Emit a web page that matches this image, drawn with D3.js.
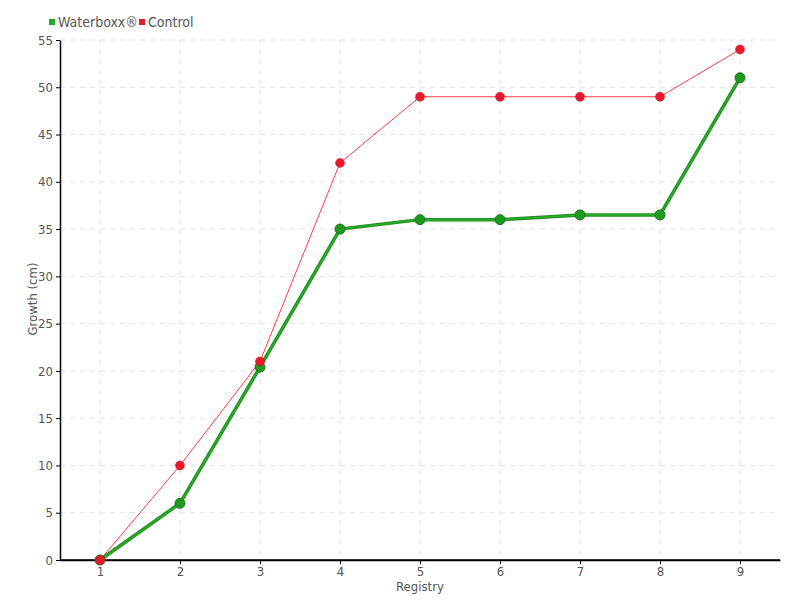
<!DOCTYPE html>
<html><head><meta charset="utf-8">
<script src="https://cdn.jsdelivr.net/npm/d3@7"></script>
<style>
body{margin:0;background:#fff;}
text{font-family:"DejaVu Sans Condensed","DejaVu Sans",sans-serif;font-stretch:condensed;fill:#555;}
</style></head>
<body><svg id="c" width="800" height="600"></svg>
<script>
const categories = [1,2,3,4,5,6,7,8,9];
const waterboxx = [0,6,20.4,35,36,36,36.5,36.5,51];
const control = [0,10,21,42,49,49,49,49,54];
const yTicks = [0,5,10,15,20,25,30,35,40,45,50,55];
const seriesNames = ["Waterboxx®","Control"];

const FONT='"DejaVu Sans Condensed","DejaVu Sans",sans-serif';
const svg = d3.select("#c");
const L=60,R=780,T=40,B=560;
const x = d3.scalePoint().domain(categories).range([L,R]).padding(0.5);
const y = d3.scaleLinear().domain([0,55]).range([B,T]);

// grid
svg.append("g").selectAll("line").data(yTicks.filter(d=>d>0)).join("line")
  .attr("x1",L).attr("x2",R).attr("y1",d=>y(d)).attr("y2",d=>y(d))
  .attr("stroke","#e2e2e2").attr("stroke-dasharray","5,5");
svg.append("g").selectAll("line").data(categories).join("line")
  .attr("x1",d=>x(d)).attr("x2",d=>x(d)).attr("y1",T).attr("y2",B)
  .attr("stroke","#e2e2e2").attr("stroke-dasharray","5,5");

// axes
const ax = svg.append("g").attr("transform",`translate(0,${B})`)
  .call(d3.axisBottom(x).tickSize(4).tickPadding(3).tickSizeOuter(0));
const ay = svg.append("g").attr("transform",`translate(${L},0)`)
  .call(d3.axisLeft(y).tickValues(yTicks).tickSize(4).tickPadding(3).tickSizeOuter(0));
[ax,ay].forEach(g=>{
  g.select(".domain").attr("stroke","#000").attr("stroke-width",1.5);
  g.selectAll(".tick line").attr("stroke","#000");
  g.selectAll("text").attr("font-size",13).attr("fill","#555")
   .style("font-family",FONT).style("font-stretch","condensed");
});
svg.append("line").attr("x1",L).attr("x2",R).attr("y1",B).attr("y2",B).attr("stroke","#000").attr("stroke-width",1.5);

svg.append("text").attr("x",420).attr("y",591).attr("text-anchor","middle").attr("font-size",13).text("Registry");
svg.append("text").attr("transform","translate(37,299) rotate(-90)").attr("text-anchor","middle").attr("font-size",13).text("Growth (cm)");

const line = d3.line().x((d,i)=>x(categories[i])).y(d=>y(d));

// control
svg.append("path").datum(control).attr("d",line).attr("fill","none").attr("stroke","#ff3b4e").attr("stroke-width",1);
// waterboxx
svg.append("path").datum(waterboxx).attr("d",line).attr("fill","none").attr("stroke","#1e8f1e").attr("stroke-width",3.5);
svg.append("path").datum(waterboxx).attr("d",line).attr("fill","none").attr("stroke","#2aad2a").attr("stroke-width",1.5);

svg.append("g").selectAll("circle").data(waterboxx).join("circle")
  .attr("cx",(d,i)=>x(categories[i])).attr("cy",d=>y(d)).attr("r",5)
  .attr("fill","#1f9a1f").attr("stroke","#187a18").attr("stroke-width",1);
svg.append("g").selectAll("circle").data(control).join("circle")
  .attr("cx",(d,i)=>x(categories[i])).attr("cy",d=>y(d)).attr("r",4.5)
  .attr("fill","#e8192c").attr("stroke","#d01020").attr("stroke-width",0.5);

// legend
const colors=["#22aa22","#e8192c"];
const lx=[49,139];
seriesNames.forEach((n,i)=>{
  svg.append("rect").attr("x",lx[i]).attr("y",19).attr("width",6).attr("height",6).attr("fill",colors[i]);
  svg.append("text").attr("x",lx[i]+9).attr("y",27).attr("font-size",14).text(n);
});
</script></body></html>
